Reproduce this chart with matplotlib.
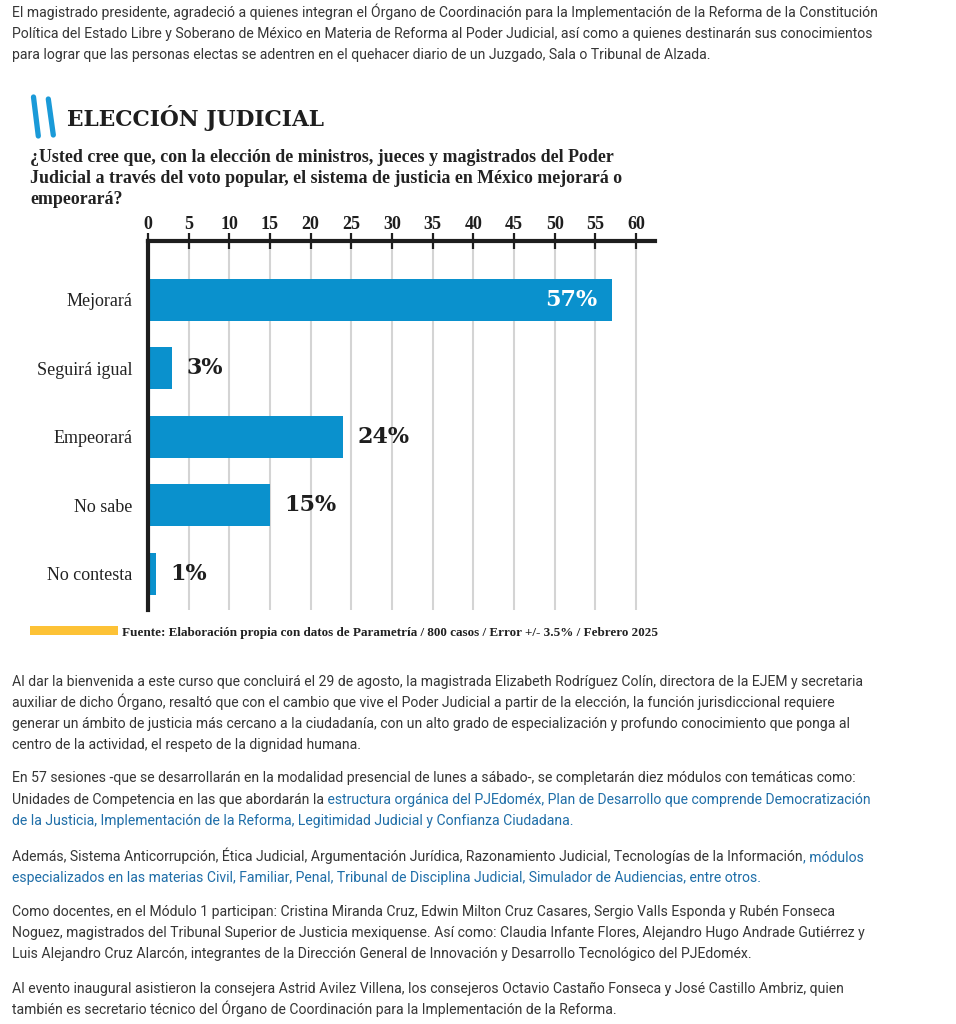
import numpy as np
import matplotlib
matplotlib.use("Agg")
import matplotlib.pyplot as plt
from matplotlib import font_manager
from matplotlib.text import Annotation

# chart data
categories = ["Mejorará", "Seguirá igual", "Empeorará", "No sabe", "No contesta"]
values = [57, 3, 24, 15, 1]
x_ticks = [0, 5, 10, 15, 20, 25, 30, 35, 40, 45, 50, 55, 60]

title = "ELECCIÓN JUDICIAL"
question = ["¿Usted cree que, con la elección de ministros, jueces y magistrados del Poder",
            "Judicial a través del voto popular, el sistema de justicia en México mejorará o",
            "empeorará?"]
source = "Fuente: Elaboración propia con datos de Parametría / 800 casos / Error +/- 3.5% / Febrero 2025"

# article text: each line is a list of (text, is_link) segments
para_top = [
    [("El magistrado presidente, agradeció a quienes integran el Órgano de Coordinación para la Implementación de la Reforma de la Constitución", False)],
    [("Política del Estado Libre y Soberano de México en Materia de Reforma al Poder Judicial, así como a quienes destinarán sus conocimientos", False)],
    [("para lograr que las personas electas se adentren en el quehacer diario de un Juzgado, Sala o Tribunal de Alzada.", False)],
]
para_bottom = [
    [[("Al dar la bienvenida a este curso que concluirá el 29 de agosto, la magistrada Elizabeth Rodríguez Colín, directora de la EJEM y secretaria", False)],
     [("auxiliar de dicho Órgano, resaltó que con el cambio que vive el Poder Judicial a partir de la elección, la función jurisdiccional requiere", False)],
     [("generar un ámbito de justicia más cercano a la ciudadanía, con un alto grado de especialización y profundo conocimiento que ponga al", False)],
     [("centro de la actividad, el respeto de la dignidad humana.", False)]],
    [[("En 57 sesiones -que se desarrollarán en la modalidad presencial de lunes a sábado-, se completarán diez módulos con temáticas como:", False)],
     [("Unidades de Competencia en las que abordarán la", False),
      (" estructura orgánica del PJEdoméx, Plan de Desarrollo que comprende Democratización", True)],
     [("de la Justicia, Implementación de la Reforma, Legitimidad Judicial y Confianza Ciudadana.", True)]],
    [[("Además, Sistema Anticorrupción, Ética Judicial, Argumentación Jurídica, Razonamiento Judicial, Tecnologías de la Información", False),
      (", módulos", True)],
     [("especializados en las materias Civil, Familiar, Penal, Tribunal de Disciplina Judicial, Simulador de Audiencias, entre otros.", True)]],
    [[("Como docentes, en el Módulo 1 participan: Cristina Miranda Cruz, Edwin Milton Cruz Casares, Sergio Valls Esponda y Rubén Fonseca", False)],
     [("Noguez, magistrados del Tribunal Superior de Justicia mexiquense. Así como: Claudia Infante Flores, Alejandro Hugo Andrade Gutiérrez y", False)],
     [("Luis Alejandro Cruz Alarcón, integrantes de la Dirección General de Innovación y Desarrollo Tecnológico del PJEdoméx.", False)]],
    [[("Al evento inaugural asistieron la consejera Astrid Avilez Villena, los consejeros Octavio Castaño Fonseca y José Castillo Ambriz, quien", False)],
     [("también es secretario técnico del Órgano de Coordinación para la Implementación de la Reforma.", False)]],
]

W, H = 956, 1024
BAR = "#0a91cd"
LOGO = "#1a9ad8"
YELLOW = "#fdc236"
TXT = "#363636"
LINK = "#1f6ea8"


def pick(*names):
    have = set(f.name for f in font_manager.fontManager.ttflist)
    for n in names:
        if n in have:
            return n
    return "DejaVu Sans"


BODY = pick("Roboto", "Liberation Sans")
SERIF = pick("Liberation Serif", "DejaVu Serif")
SLAB = pick("DejaVu Serif")


def fx(x):
    return x / W


def fy(y):
    return 1 - y / H


fig = plt.figure(figsize=(W / 100, H / 100), dpi=100)
fig.patch.set_facecolor("white")
renderer = fig.canvas.get_renderer()


def fit(t, width_px):
    w = t.get_window_extent(renderer).width
    t.set_fontsize(t.get_fontsize() * width_px / w)


# body font size from the first line width
probe = fig.text(0, 0, para_top[0][0][0], fontsize=10, family=BODY)
fit(probe, 868)
body_size = probe.get_fontsize()
probe.remove()


def write_line(segments, y):
    last = None
    for txt, link in segments:
        color = LINK if link else TXT
        if last is None:
            last = fig.text(fx(12), fy(y), txt, fontsize=body_size, family=BODY,
                            color=color, va="bottom", ha="left")
        else:
            # next segment starts where the previous one ends
            last = fig.add_artist(Annotation(txt, xy=(1, 0), xycoords=last,
                                             va="bottom", ha="left", fontsize=body_size,
                                             family=BODY, color=color))


# top paragraph
for line, y in zip(para_top, [20, 41, 62]):
    write_line(line, y)

# bottom paragraphs
bottom_y = [[689, 710, 731, 752], [785, 807, 828], [864, 885], [919, 940, 961], [996, 1017]]
for para, ys in zip(para_bottom, bottom_y):
    for line, y in zip(para, ys):
        write_line(line, y)

# logo strokes and title
fig.add_artist(plt.Line2D([fx(33.5), fx(38.3)], [fy(97), fy(136)], color=LOGO, lw=3.8,
                          solid_capstyle="round"))
fig.add_artist(plt.Line2D([fx(48.3), fx(53.3)], [fy(99), fy(135)], color=LOGO, lw=3.8,
                          solid_capstyle="round"))
t = fig.text(fx(67), fy(126), title, family=SLAB, fontweight="bold", fontsize=18,
             color="#1e1e1e", va="baseline", ha="left")
fit(t, 258)

qsize = None
for line, y in zip(question, [162, 183, 204]):
    q = fig.text(fx(30), fy(y), line, family=SERIF, fontweight="bold", fontsize=13,
                 color="#222222", va="baseline", ha="left")
    if qsize is None:
        fit(q, 582)
        qsize = q.get_fontsize()
    else:
        q.set_fontsize(qsize)

# bar chart
left, right, top, bottom = 148, 655, 241, 610
ax = fig.add_axes([fx(left), fy(bottom), fx(right - left), (bottom - top) / H])
pos = np.arange(len(categories))
ax.barh(pos, values, height=0.61, color=BAR, zorder=3)
ax.set_xlim(0, 60 * (right - left) / (636 - left))
ax.set_ylim(4.53, -0.86)
ax.set_xticks(x_ticks)
ax.xaxis.tick_top()
ax.grid(axis="x", color="#d4d4d4", lw=1.5, zorder=0)
ax.tick_params(axis="x", direction="inout", length=12, width=1.6, color="#1e1e1e",
               pad=-0.2, labelsize=13, labelcolor="#1e1e1e")
for lab in ax.get_xticklabels():
    lab.set_family(SERIF)
    lab.set_fontweight("bold")
ax.set_yticks(pos)
ax.set_yticklabels(categories, family=SERIF, fontsize=13, color="#222222")
ax.tick_params(axis="y", length=0, pad=11)
for s in ["right", "bottom"]:
    ax.spines[s].set_visible(False)
for s in ["top", "left"]:
    ax.spines[s].set_linewidth(3)
    ax.spines[s].set_color("#1e1e1e")
    ax.spines[s].set_zorder(4)

for p, v in zip(pos, values):
    if v > 40:
        ax.annotate(f"{v}%", xy=(v, p), xytext=(-10, 0), textcoords="offset points",
                    ha="right", va="center", color="white", family=SLAB,
                    fontweight="bold", fontsize=16, zorder=5)
    else:
        ax.annotate(f"{v}%", xy=(v, p), xytext=(10, 0), textcoords="offset points",
                    ha="left", va="center", color="#1e1e1e", family=SLAB,
                    fontweight="bold", fontsize=16, zorder=5)

# source line
fig.add_artist(plt.Rectangle((fx(30), fy(635)), fx(88), 9 / H, color=YELLOW, lw=0))
s = fig.text(fx(122), fy(636), source, family=SERIF, fontweight="bold", fontsize=9,
             color="#222222", va="baseline", ha="left")
fit(s, 534)

fig.savefig("out.png", dpi=100, facecolor="white")
